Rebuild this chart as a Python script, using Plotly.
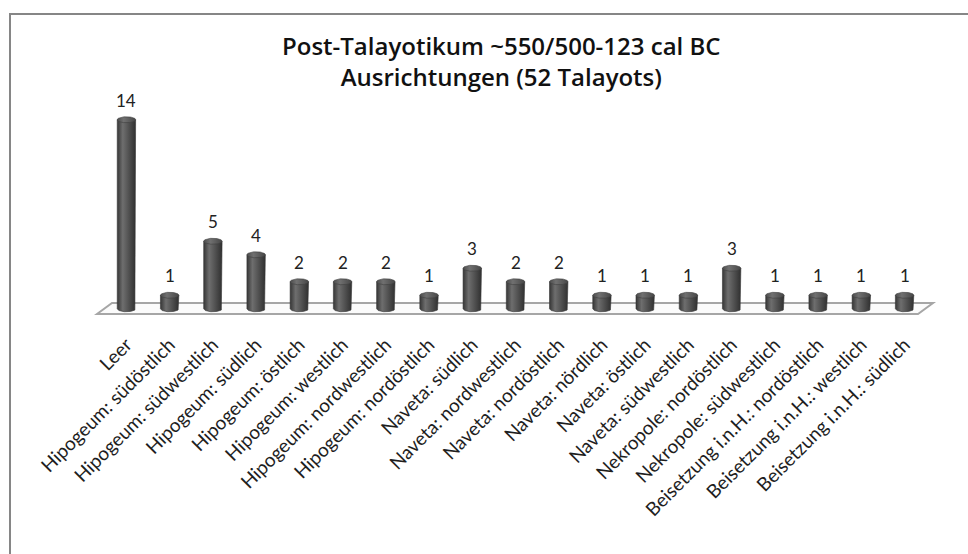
import numpy as np
import plotly.graph_objects as go

# Orientation categories and counts
categories = [
    "Leer",
    "Hipogeum: südöstlich",
    "Hipogeum: südwestlich",
    "Hipogeum: südlich",
    "Hipogeum: östlich",
    "Hipogeum: westlich",
    "Hipogeum: nordwestlich",
    "Hipogeum: nordöstlich",
    "Naveta: südlich",
    "Naveta: nordwestlich",
    "Naveta: nordöstlich",
    "Naveta: nördlich",
    "Naveta: östlich",
    "Naveta: südwestlich",
    "Nekropole: nordöstlich",
    "Nekropole: südwestlich",
    "Beisetzung i.n.H.: nordöstlich",
    "Beisetzung i.n.H.: westlich",
    "Beisetzung i.n.H.: südlich",
]
counts = [14, 1, 5, 4, 2, 2, 2, 1, 3, 2, 2, 1, 1, 1, 3, 1, 1, 1, 1]

title_text = "Post-Talayotikum ~550/500-123 cal BC<br>Ausrichtungen (52 Talayots)"

FONT = "Lato, Open Sans, sans-serif"
TITLE_FONT = "Open Sans, Lato, sans-serif"

# Canvas and plot geometry (pixels)
W, H = 968, 554
ML, MR, MT, MB = 94, 31, 86, 225
XR = [-0.75, 18.75]
YR = [-1.5, 16.5]
PW, PH = W - ML - MR, H - MT - MB
px_per_x = PW / (XR[1] - XR[0])
px_per_y = PH / (YR[1] - YR[0])


def px_to_x(px):
    return XR[0] + (px - ML) / px_per_x


def px_to_y(py):
    return YR[1] - (py - MT) / px_per_y


def px_to_paper_x(px):
    return (px - ML) / PW


def px_to_paper_y(py):
    return 1 - (py - MT) / PH


half_w = 9.2 / px_per_x      # cylinder radius in x units
ry = 3.0 / px_per_y          # ellipse half-height in y units

fig = go.Figure()

body_scale = [[0.0, "#363636"], [0.3, "#6e6e6e"], [0.55, "#585858"], [1.0, "#303030"]]
top_scale = [[0.0, "#4c4c4c"], [0.35, "#707070"], [1.0, "#474747"]]

theta = np.linspace(0, np.pi, 40)
theta_full = np.linspace(0, 2 * np.pi, 80)

for i, v in enumerate(counts):
    # body: left side up, across the top, down the right side, front arc of the base
    bx = np.concatenate([[i - half_w, i - half_w, i + half_w, i + half_w],
                         i + half_w * np.cos(theta)])
    by = np.concatenate([[0, v, v, 0], -ry * np.sin(theta)])
    fig.add_trace(go.Scatter(
        x=bx, y=by, mode="lines", fill="toself",
        line=dict(width=0.6, color="#363636"),
        fillgradient=dict(type="horizontal", colorscale=body_scale),
        hoverinfo="skip", showlegend=False,
    ))
    # top ellipse
    fig.add_trace(go.Scatter(
        x=i + half_w * np.cos(theta_full), y=v + ry * np.sin(theta_full),
        mode="lines", fill="toself",
        line=dict(width=0.6, color="#404040"),
        fillgradient=dict(type="horizontal", colorscale=top_scale),
        hoverinfo="skip", showlegend=False,
    ))

# value labels above each cylinder
annotations = []
for i, v in enumerate(counts):
    annotations.append(dict(
        x=i, y=v, xref="x", yref="y", text=str(v), showarrow=False,
        yanchor="bottom", yshift=7,
        font=dict(family=FONT, size=17, color="#222222"),
    ))

# two-line chart title
annotations.append(dict(
    text=title_text, xref="paper", yref="paper",
    x=px_to_paper_x(501), y=px_to_paper_y(61),
    xanchor="center", yanchor="middle", showarrow=False,
    font=dict(family=TITLE_FONT, size=24, color="#111111", weight=600),
))

# floor parallelogram
fx = [px_to_x(112), px_to_x(933), px_to_x(918), px_to_x(97)]
fy = [px_to_y(303), px_to_y(303), px_to_y(314), px_to_y(314)]
floor_path = "M {} {} L {} {} L {} {} L {} {} Z".format(
    fx[0], fy[0], fx[1], fy[1], fx[2], fy[2], fx[3], fy[3])

shapes = [
    dict(type="path", path=floor_path, xref="x", yref="y", layer="below",
         line=dict(color="#a6a6a6", width=2), fillcolor="#fbfbfb"),
    # chart border
    dict(type="rect", xref="paper", yref="paper",
         x0=px_to_paper_x(10), x1=px_to_paper_x(1000),
         y0=px_to_paper_y(600), y1=px_to_paper_y(14),
         line=dict(color="#868686", width=2), fillcolor="rgba(0,0,0,0)", layer="below"),
]

fig.update_layout(
    width=W, height=H,
    margin=dict(l=ML, r=MR, t=MT, b=MB),
    paper_bgcolor="white", plot_bgcolor="white",
    xaxis=dict(
        range=XR, tickmode="array", tickvals=list(range(len(categories))),
        ticktext=categories, tickangle=-45, showgrid=False, zeroline=False,
        showline=False, ticks="",
        tickfont=dict(family=FONT, size=19, color="#1e1e1e"),
    ),
    yaxis=dict(range=YR, visible=False, showgrid=False, zeroline=False),
    annotations=annotations,
    shapes=shapes,
    showlegend=False,
)

fig.write_html("out.html")
